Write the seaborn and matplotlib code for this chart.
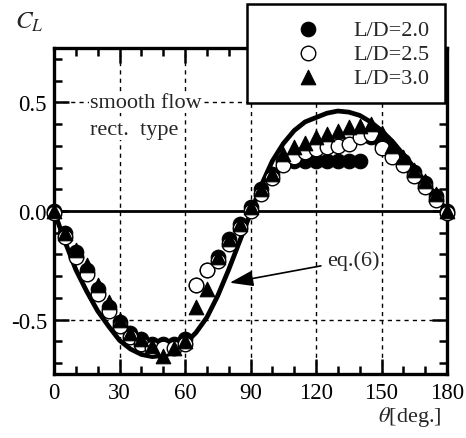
import numpy as np
import pandas as pd
import matplotlib
matplotlib.use("Agg")
import matplotlib.pyplot as plt
from matplotlib.ticker import MultipleLocator
import seaborn as sns

# angle of attack [deg.]
theta = list(range(0, 181, 5))

# lift coefficient
cl_ld20 = [0.00, -0.10, -0.19, -0.27, -0.36, -0.44, -0.51, -0.56, -0.59, -0.61,
           -0.61, -0.61, -0.59, -0.34, -0.27, -0.21, -0.13, -0.06, 0.02, 0.10,
           0.17, 0.23, 0.23, 0.23, 0.23, 0.23, 0.23, 0.23, 0.23, 0.34,
           0.31, 0.27, 0.23, 0.18, 0.13, 0.07, 0.00]
cl_ld25 = [-0.01, -0.12, -0.21, -0.29, -0.38, -0.46, -0.53, -0.58, -0.61, -0.63,
           -0.63, -0.63, -0.61, -0.34, -0.27, -0.23, -0.15, -0.08, 0.00, 0.08,
           0.15, 0.21, 0.25, 0.27, 0.285, 0.295, 0.30, 0.31, 0.34, 0.355,
           0.29, 0.25, 0.21, 0.16, 0.11, 0.05, -0.01]
cl_ld30 = [0.00, -0.10, -0.18, -0.25, -0.34, -0.42, -0.50, -0.56, -0.59, -0.62,
           -0.665, -0.63, -0.60, -0.44, -0.36, -0.21, -0.13, -0.06, 0.02, 0.10,
           0.17, 0.26, 0.295, 0.315, 0.34, 0.355, 0.37, 0.385, 0.39, 0.40,
           0.36, 0.30, 0.25, 0.19, 0.14, 0.08, 0.00]

# eq.(6) curve
theta_eq = list(range(0, 181, 5))
cl_eq = [0.00, -0.14, -0.27, -0.37, -0.46, -0.53, -0.595, -0.635, -0.66, -0.67,
         -0.665, -0.65, -0.61, -0.56, -0.49, -0.39, -0.27, -0.14, -0.01, 0.12,
         0.23, 0.31, 0.37, 0.41, 0.43, 0.45, 0.46, 0.455, 0.44, 0.41,
         0.37, 0.32, 0.26, 0.20, 0.135, 0.07, 0.00]

sns.set_style("ticks")
plt.rcParams['font.family'] = ['Liberation Serif', 'DejaVu Serif']
plt.rcParams['mathtext.fontset'] = 'stix'
plt.rcParams['axes.unicode_minus'] = False

fig = plt.figure(figsize=(4.66, 4.39), dpi=100)
ax = fig.add_axes([54/466, 1-375/439, (447-54)/466, (375-49)/439])

# grid
for gx in [30, 60, 90, 120, 150]:
    ax.axvline(gx, color='black', lw=1, ls=(0, (3, 3)), zorder=0)
for gy in [-0.5, 0.5]:
    ax.axhline(gy, color='black', lw=1, ls=(0, (3, 3)), zorder=0)
ax.axhline(0, color='black', lw=2, zorder=1)

sns.lineplot(x=theta_eq, y=cl_eq, color='black', lw=3.4, ax=ax, zorder=2)

ms = 110
sns.scatterplot(x=theta, y=cl_ld20, marker='o', s=ms, color='black',
                edgecolor='black', linewidth=0.8, ax=ax, zorder=3,
                clip_on=False, label='L/D=2.0')
sns.scatterplot(x=theta, y=cl_ld25, marker='o', s=ms, color='white',
                edgecolor='black', linewidth=1.0, ax=ax, zorder=4,
                clip_on=False, label='L/D=2.5')
sns.scatterplot(x=theta, y=cl_ld30, marker='^', s=ms, color='black',
                edgecolor='black', linewidth=0.8, ax=ax, zorder=5,
                clip_on=False, label='L/D=3.0')

ax.set_xlim(0, 180)
ax.set_ylim(-0.75, 0.75)
ax.xaxis.set_major_locator(MultipleLocator(30))
ax.xaxis.set_minor_locator(MultipleLocator(10))
ax.yaxis.set_major_locator(MultipleLocator(0.5))
ax.yaxis.set_minor_locator(MultipleLocator(0.1))
ax.yaxis.set_major_formatter(plt.FormatStrFormatter('%.1f'))
ax.tick_params(which='both', direction='in', top=True, right=True, width=1.8,
               labelsize=16.5, color='black', labelcolor='black')
ax.tick_params(which='major', length=11)
ax.tick_params(which='minor', length=6)
ax.tick_params(axis='x', pad=6)
ax.tick_params(axis='y', pad=5)
for sp in ax.spines.values():
    sp.set_linewidth(2.4)
    sp.set_color('black')
ax.set_xlabel('')
ax.set_ylabel('')

ax.text(16.5, 0.5, 'smooth flow', fontsize=16, ha='left', va='center', zorder=1.5,
        bbox=dict(facecolor='white', edgecolor='none', pad=1))
ax.text(16.5, 0.376, 'rect.  type', fontsize=16, ha='left', va='center', zorder=1.5,
        bbox=dict(facecolor='white', edgecolor='none', pad=1))

ax.annotate('eq.(6)', xy=(80.5, -0.33), xytext=(125, -0.225), fontsize=16,
            ha='left', va='center',
            arrowprops=dict(arrowstyle='-|>,head_length=0.9,head_width=0.3',
                            color='black', lw=1.2, shrinkA=2, shrinkB=0))

fig.text(15/466, 1-22/439, r'$C_L$', fontsize=18, ha='left', va='center')
fig.text(442/466, 1-417/439, r'$\theta$[deg.]', fontsize=16, ha='right', va='center')

ax.get_legend().remove()
handles, labels = ax.get_legend_handles_labels()
leg = fig.legend(handles, labels, loc='upper right',
                 bbox_to_anchor=(445/466, 1-5/439), fontsize=16,
                 frameon=True, fancybox=False, framealpha=1, edgecolor='black',
                 borderpad=0.7, handlelength=4.1, handletextpad=0.0,
                 labelspacing=0.15, borderaxespad=0)
leg.get_frame().set_linewidth(1.8)
leg.set_zorder(10)

fig.savefig('out.png', dpi=100)
